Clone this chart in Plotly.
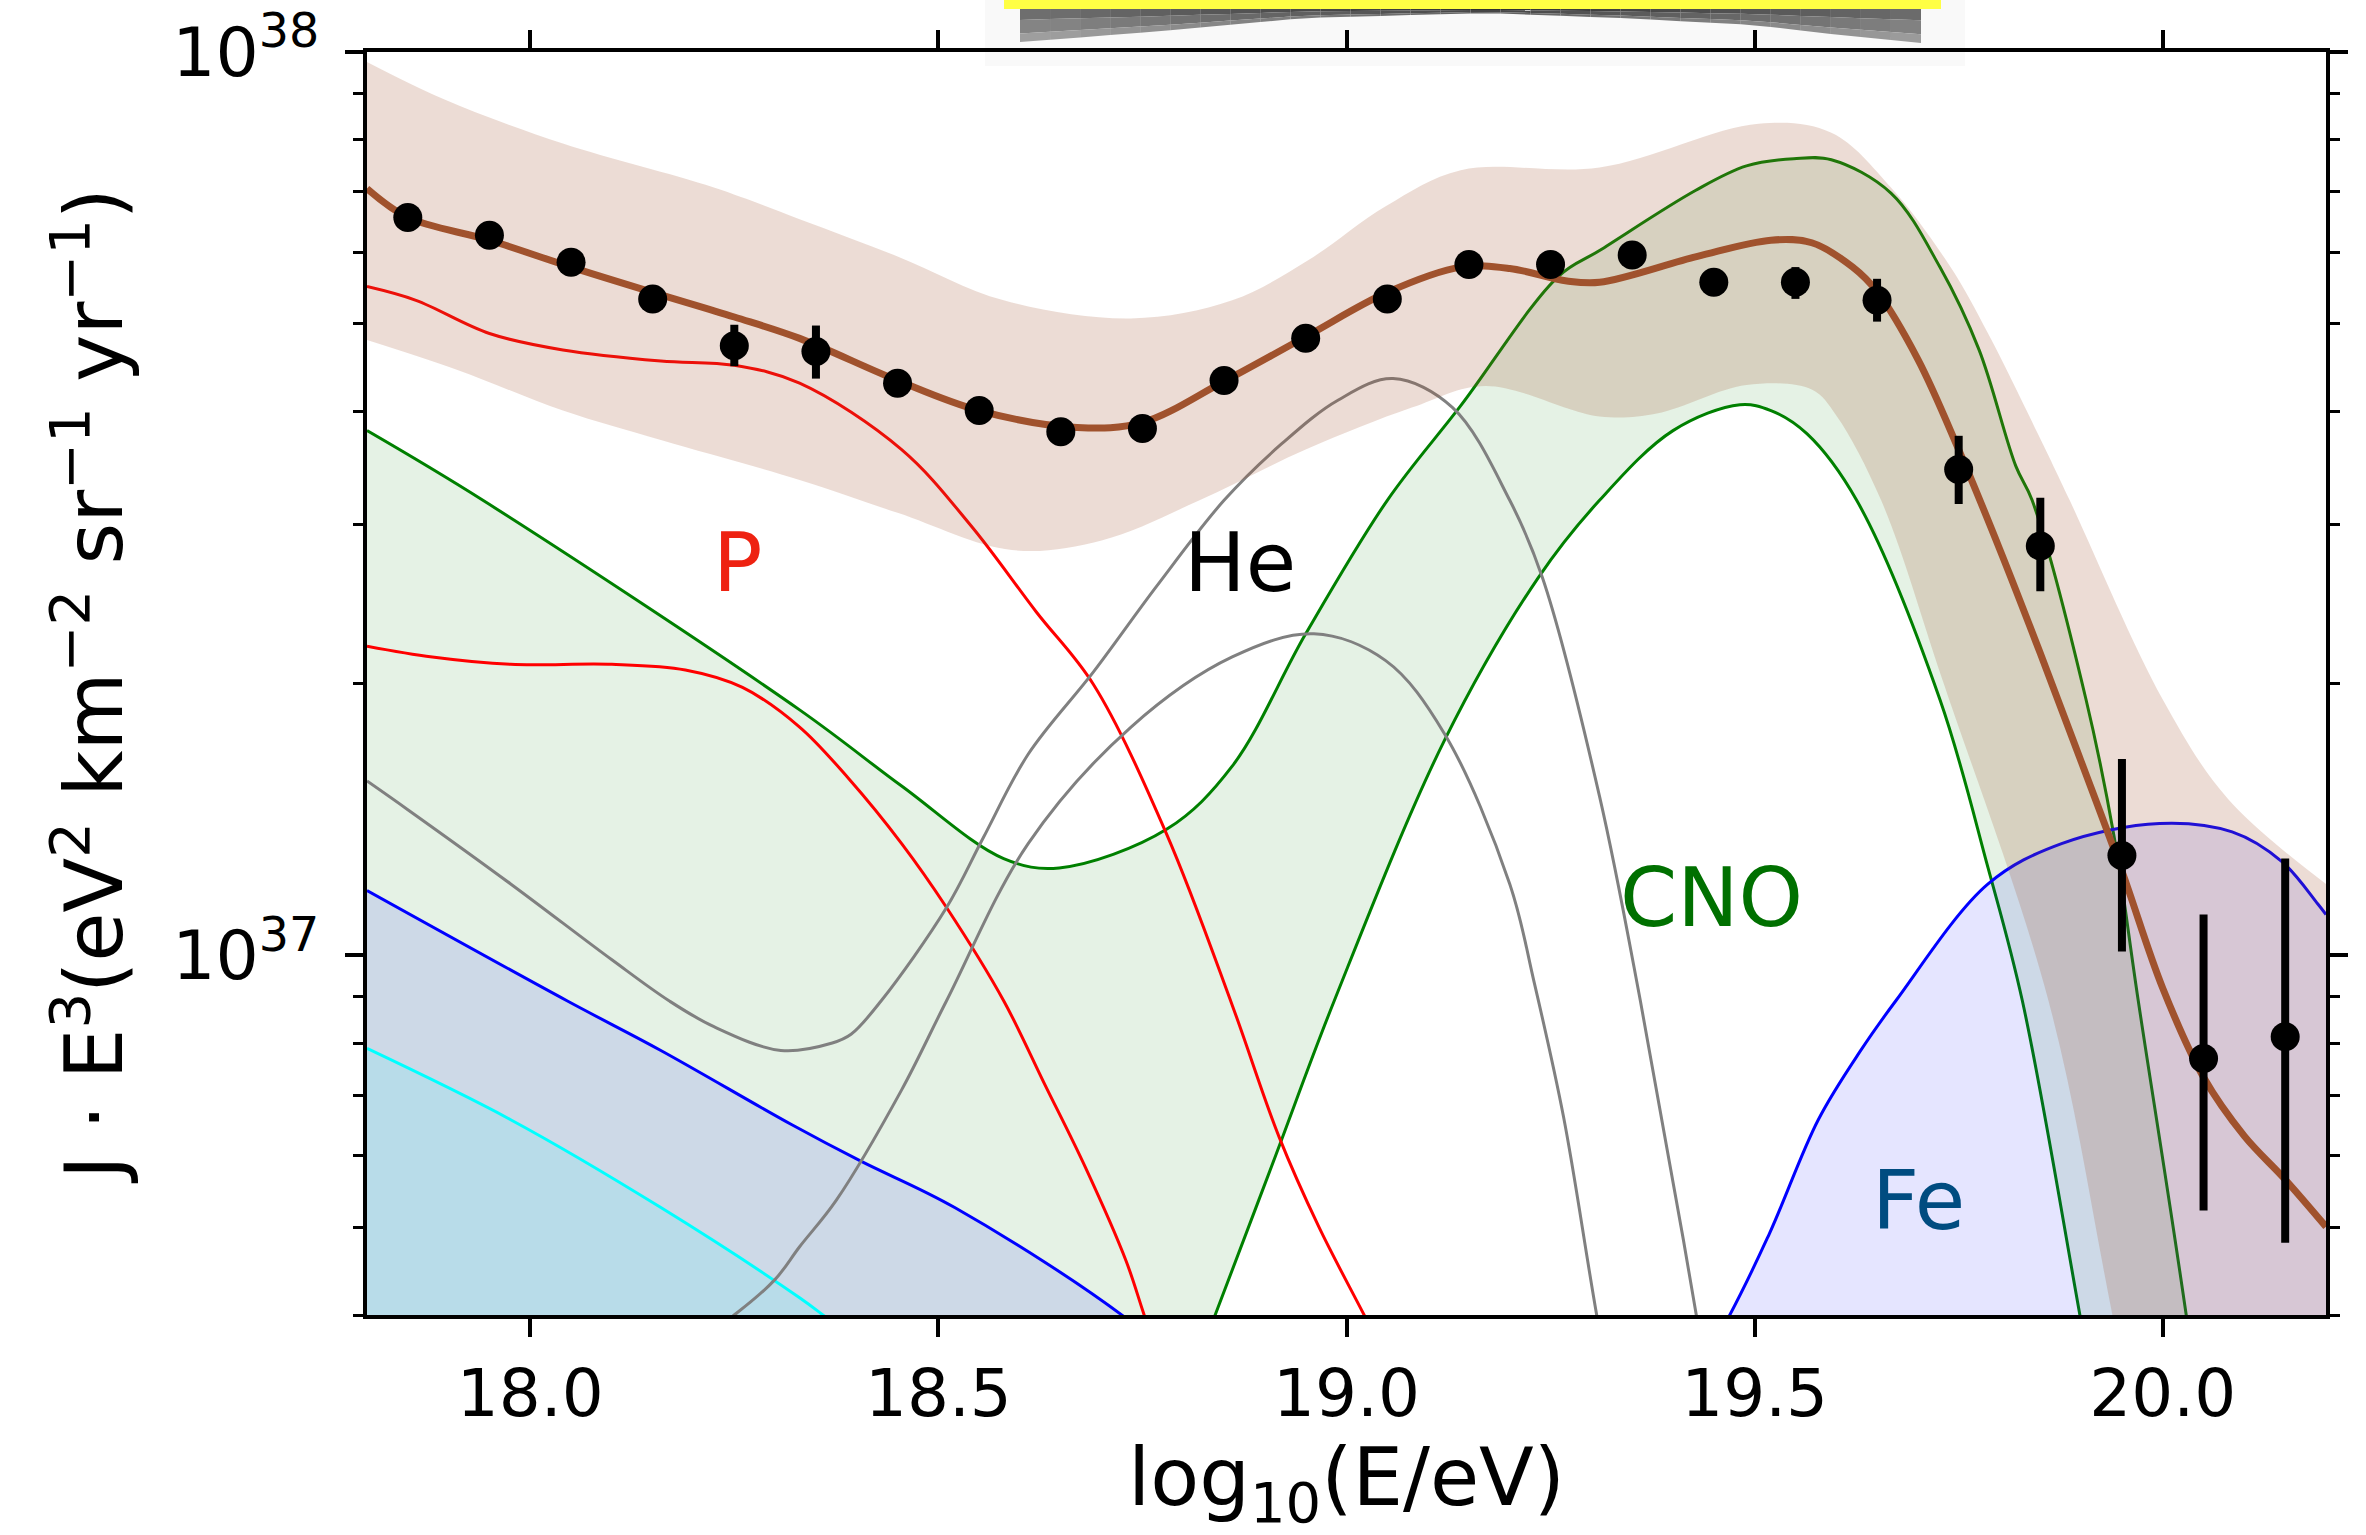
import math
import plotly.graph_objects as go

# ---------------- data ----------------
# measured spectrum points
data_x = [17.85, 17.95, 18.05, 18.15, 18.25, 18.35, 18.45, 18.55, 18.65, 18.75, 18.85, 18.95,
          19.05, 19.15, 19.25, 19.35, 19.45, 19.55, 19.65, 19.75, 19.85, 19.95, 20.05, 20.15]
data_y = [6.56e37, 6.27e37, 5.85e37, 5.33e37, 4.73e37, 4.66e37, 4.30e37, 4.01e37, 3.80e37, 3.83e37,
          4.33e37, 4.82e37, 5.33e37, 5.82e37, 5.82e37, 5.96e37, 5.56e37, 5.56e37, 5.31e37, 3.45e37,
          2.84e37, 1.29e37, 7.69e36, 8.13e36]
data_hi = [6.62e37, 6.33e37, 5.91e37, 5.39e37, 4.99e37, 4.98e37, 4.36e37, 4.07e37, 3.86e37, 3.89e37,
           4.39e37, 4.89e37, 5.41e37, 5.90e37, 5.91e37, 6.06e37, 5.66e37, 5.78e37, 5.61e37, 3.76e37,
           3.21e37, 1.65e37, 1.11e37, 1.28e37]
data_lo = [6.50e37, 6.21e37, 5.79e37, 5.27e37, 4.49e37, 4.35e37, 4.24e37, 3.95e37, 3.74e37, 3.77e37,
           4.27e37, 4.75e37, 5.25e37, 5.74e37, 5.73e37, 5.86e37, 5.46e37, 5.33e37, 5.03e37, 3.16e37,
           2.53e37, 1.01e37, 5.22e36, 4.81e36]

# total fit
fit_x = [17.80, 17.85, 17.95, 18.05, 18.15, 18.25, 18.33, 18.45, 18.55, 18.67, 18.75, 18.85, 18.95,
         19.05, 19.14, 19.20, 19.27, 19.31, 19.43, 19.52, 19.57, 19.62, 19.65, 19.70, 19.75, 19.80,
         19.85, 19.90, 19.95, 20.00, 20.05, 20.10, 20.15, 20.20]
fit_y = [7.06e37, 6.56e37, 6.19e37, 5.78e37, 5.42e37, 5.09e37, 4.82e37, 4.33e37, 4.01e37, 3.84e37,
         3.89e37, 4.32e37, 4.84e37, 5.42e37, 5.78e37, 5.76e37, 5.58e37, 5.56e37, 5.94e37, 6.19e37,
         6.15e37, 5.78e37, 5.43e37, 4.57e37, 3.63e37, 2.82e37, 2.16e37, 1.64e37, 1.24e37, 9.20e36,
         7.33e36, 6.31e36, 5.65e36, 5.01e36]

# total-fit uncertainty band
band_hi_x = [17.80, 17.895, 18.04, 18.225, 18.33, 18.45, 18.58, 18.736, 18.86, 18.954, 19.048, 19.14,
             19.31, 19.505, 19.594, 19.667, 19.74, 19.786, 19.847, 19.886, 20.00, 20.08, 20.20]
band_hi = [9.75e37, 8.86e37, 7.92e37, 7.08e37, 6.53e37, 5.94e37, 5.31e37, 5.07e37, 5.31e37, 5.89e37,
           6.75e37, 7.40e37, 7.45e37, 8.33e37, 8.14e37, 7.08e37, 5.78e37, 4.88e37, 3.78e37, 3.19e37,
           1.92e37, 1.49e37, 1.20e37]
band_lo_x = [17.80, 17.91, 18.04, 18.16, 18.33, 18.45, 18.59, 18.70, 18.82, 18.95, 19.08, 19.17, 19.31,
             19.38, 19.49, 19.57, 19.60, 19.655, 19.73, 19.86, 19.94, 20.05, 20.20]
band_lo = [4.80e37, 4.45e37, 4.01e37, 3.72e37, 3.36e37, 3.09e37, 2.81e37, 2.88e37, 3.19e37, 3.63e37,
           4.04e37, 4.27e37, 3.95e37, 3.98e37, 4.28e37, 4.23e37, 3.96e37, 3.19e37, 2.02e37, 8.91e36,
           3.93e36, 1.23e36, 2.5e35]

# CNO band
cno_lo_x = [17.80, 18.30, 18.60, 18.84, 18.913, 18.985, 19.12, 19.235, 19.31, 19.40, 19.482, 19.52,
            19.564, 19.625, 19.727, 19.786, 19.828, 19.90, 20.00, 20.20]
cno_lo = [3.0e34, 2.5e35, 1.1e36, 4.02e36, 6.00e36, 8.91e36, 1.73e37, 2.62e37, 3.19e37, 3.81e37,
          4.07e37, 4.01e37, 3.78e37, 3.19e37, 1.92e37, 1.25e37, 8.91e36, 3.93e36, 1.2e36, 1.0e35]
cno_hi_x = [17.80, 17.942, 18.33, 18.455, 18.58, 18.648, 18.78, 18.86, 18.95, 19.05, 19.14, 19.26,
            19.31, 19.428, 19.49, 19.548, 19.594, 19.667, 19.727, 19.775, 19.82, 19.84, 19.906,
            19.94, 19.97, 20.03, 20.20]
cno_hi = [3.81e37, 3.19e37, 1.87e37, 1.54e37, 1.28e37, 1.25e37, 1.38e37, 1.62e37, 2.27e37, 3.19e37,
          4.06e37, 5.65e37, 6.03e37, 7.03e37, 7.48e37, 7.62e37, 7.60e37, 6.98e37, 5.78e37, 4.68e37,
          3.48e37, 3.19e37, 1.92e37, 1.36e37, 8.91e36, 3.93e36, 3.0e35]

# Fe band (upper edge) and cyan band (upper edge)
fe_x = [17.80, 18.045, 18.16, 18.32, 18.405, 18.52, 18.736, 18.90, 19.10, 19.30, 19.465, 19.518,
        19.578, 19.63, 19.673, 19.786, 19.876, 19.996, 20.085, 20.146, 20.19, 20.20]
fe_y = [1.18e37, 8.91e36, 7.85e36, 6.50e36, 5.92e36, 5.26e36, 3.93e36, 2.9e36, 2.1e36, 2.2e36,
        3.93e36, 4.92e36, 6.58e36, 7.85e36, 8.91e36, 1.20e37, 1.33e37, 1.40e37, 1.37e37, 1.27e37,
        1.14e37, 1.11e37]
cyan_x = [17.80, 17.976, 18.16, 18.33, 18.37, 18.60]
cyan_y = [7.89e36, 6.58e36, 5.26e36, 4.18e36, 3.93e36, 2.8e36]

# proton band edges
p_hi_x = [17.80, 17.86, 17.95, 18.04, 18.16, 18.25, 18.33, 18.455, 18.54, 18.62, 18.69, 18.78, 18.86,
          18.917, 18.966, 19.026, 19.10]
p_hi = [5.50e37, 5.31e37, 4.88e37, 4.68e37, 4.55e37, 4.50e37, 4.30e37, 3.63e37, 2.99e37, 2.40e37,
        1.995e37, 1.36e37, 8.81e36, 6.31e36, 5.01e36, 3.93e36, 2.9e36]
p_lo_x = [17.80, 17.88, 17.976, 18.10, 18.19, 18.26, 18.33, 18.39, 18.455, 18.51, 18.58, 18.63,
          18.68, 18.73, 18.755, 18.82]
p_lo = [2.20e37, 2.14e37, 2.10e37, 2.10e37, 2.07e37, 1.98e37, 1.79e37, 1.57e37, 1.33e37, 1.13e37,
        8.91e36, 7.21e36, 5.83e36, 4.59e36, 3.93e36, 2.7e36]

# helium band edges
he_hi_x = [17.80, 17.85, 17.976, 18.10, 18.17, 18.225, 18.307, 18.37, 18.393, 18.43, 18.51, 18.555,
           18.61, 18.69, 18.767, 18.85, 18.92, 18.99, 19.057, 19.13, 19.20, 19.24, 19.31, 19.36,
           19.43, 19.50]
he_hi = [1.56e37, 1.45e37, 1.20e37, 9.89e36, 8.91e36, 8.34e36, 7.85e36, 8.00e36, 8.18e36, 8.91e36,
         1.13e37, 1.35e37, 1.67e37, 2.06e37, 2.56e37, 3.19e37, 3.68e37, 4.12e37, 4.35e37, 4.04e37,
         3.19e37, 2.62e37, 1.50e37, 8.91e36, 3.93e36, 1.6e36]
he_lo_x = [18.15, 18.253, 18.30, 18.33, 18.375, 18.455, 18.51, 18.61, 18.736, 18.86, 18.96, 19.048,
           19.12, 19.20, 19.23, 19.266, 19.308, 19.36]
he_lo = [3.47e36, 4.02e36, 4.38e36, 4.76e36, 5.36e36, 7.10e36, 8.91e36, 1.33e37, 1.79e37, 2.14e37,
         2.27e37, 2.12e37, 1.76e37, 1.20e37, 9.33e36, 6.62e36, 3.93e36, 2.2e36]

# labels
label_text = ["P", "He", "CNO", "Fe"]
label_x = [18.254, 18.870, 19.447, 19.701]
label_y = [2.72e37, 2.72e37, 1.16e37, 5.36e36]
label_color = ["#EE2211", "#000000", "#007000", "#004C80"]

# axis ticks
x_ticks = [18.0, 18.5, 19.0, 19.5, 20.0]
x_ticktext = ["18.0", "18.5", "19.0", "19.5", "20.0"]
y_ticks = [1e37, 1e38]
y_ticktext = ["10<sup>37</sup>", "10<sup>38</sup>"]
y_minor = [4e36, 5e36, 6e36, 7e36, 8e36, 9e36, 2e37, 3e37, 4e37, 5e37, 6e37, 7e37, 8e37, 9e37]

# ---------------- figure ----------------
W, H = 2366, 1535
L, R, T, B = 367, 40, 52, 220
FONT = "DejaVu Sans"

fig = go.Figure()

def line(x, y, color, width=3, fill=None, fillcolor=None):
    fig.add_trace(go.Scatter(x=x, y=y, mode="lines",
                             line=dict(color=color, width=width, shape="spline", smoothing=1.0),
                             fill=fill, fillcolor=fillcolor, hoverinfo="skip", showlegend=False))

# CNO band
line(cno_lo_x, cno_lo, "#008000")
line(cno_hi_x, cno_hi, "#008000", fill="tonexty", fillcolor="rgba(0,128,0,0.1)")
# Fe band
line(fe_x, fe_y, "#0000FF", fill="tozeroy", fillcolor="rgba(0,0,255,0.1)")
# cyan band
line(cyan_x, cyan_y, "#00FFFF", fill="tozeroy", fillcolor="rgba(0,255,255,0.1)")
# P band
line(p_hi_x, p_hi, "#FF0000")
line(p_lo_x, p_lo, "#FF0000")
# He band
line(he_hi_x, he_hi, "#808080")
line(he_lo_x, he_lo, "#808080")
# total band
line(band_lo_x, band_lo, "rgba(0,0,0,0)", width=0)
line(band_hi_x, band_hi, "rgba(0,0,0,0)", width=0, fill="tonexty", fillcolor="rgba(160,82,45,0.2)")
# total fit
line(fit_x, fit_y, "#A0522D", width=7)

# data
fig.add_trace(go.Scatter(
    x=data_x, y=data_y, mode="markers",
    marker=dict(color="black", size=29),
    error_y=dict(type="data", symmetric=False,
                 array=[h - v for h, v in zip(data_hi, data_y)],
                 arrayminus=[v - l for l, v in zip(data_lo, data_y)],
                 thickness=8, width=0, color="black"),
    hoverinfo="skip", showlegend=False))

for t, x, y, c in zip(label_text, label_x, label_y, label_color):
    fig.add_annotation(x=x, y=math.log10(y), text=t, showarrow=False,
                       font=dict(family=FONT, size=82, color=c), xanchor="center", yanchor="middle")

# decoration at the top (cropped picture remnant)
def px(x, y):
    return (x - L) / (W - L - R), (H - B - y) / (H - T - B)

prof_x = [1020, 1151, 1305, 1486, 1620, 1754, 1821, 1921]
prof_y = [42, 32, 18, 13, 18, 25, 33, 43]

def prof(xx):
    for k in range(len(prof_x) - 1):
        if prof_x[k] <= xx <= prof_x[k + 1]:
            f = (xx - prof_x[k]) / (prof_x[k + 1] - prof_x[k])
            return prof_y[k] + f * (prof_y[k + 1] - prof_y[k])
    return prof_y[-1]

shapes = []
x0, y0 = px(985, 0); x1, y1 = px(1965, 66)
shapes.append(dict(type="rect", xref="paper", yref="paper", x0=x0, y0=y0, x1=x1, y1=y1,
                   fillcolor="rgba(0,0,0,0.022)", line=dict(width=0), layer="above"))
nseg = 30
layers = [(0.0, 0.35, 0), (0.35, 0.75, 22), (0.75, 1.0, 48)]
for i in range(nseg):
    xa = 1020 + (1921 - 1020) * i / nseg
    xb = 1020 + (1921 - 1020) * (i + 1) / nseg
    d = min(1.0, abs((xa + xb) / 2 - 1490) / 430)
    base = int(48 + 62 * d)
    for fa, fb, add in layers:
        ya_a = 8 + (prof(xa) - 8) * fa
        ya_b = 8 + (prof(xb) - 8) * fa
        yb_a = 8 + (prof(xa) - 8) * fb
        yb_b = 8 + (prof(xb) - 8) * fb
        g = min(220, base + add)
        pts = [px(xa, ya_a), px(xb, ya_b), px(xb, yb_b), px(xa, yb_a)]
        path = "M " + " L ".join(f"{a},{b}" for a, b in pts) + " Z"
        shapes.append(dict(type="path", xref="paper", yref="paper", path=path,
                           fillcolor=f"rgb({g},{g},{g})", line=dict(width=0), layer="above"))
x0, y0 = px(1004, 0); x1, y1 = px(1941, 9)
shapes.append(dict(type="rect", xref="paper", yref="paper", x0=x0, y0=y0, x1=x1, y1=y1,
                   fillcolor="#FFFF44", line=dict(width=0), layer="above"))
fig.update_layout(shapes=shapes)

fig.update_layout(
    width=W, height=H, autosize=False,
    margin=dict(l=L, r=R, t=T, b=B, pad=0, autoexpand=False),
    paper_bgcolor="white", plot_bgcolor="white",
    font=dict(family=FONT, color="black"),
    xaxis=dict(range=[17.8, 20.2], showgrid=False, zeroline=False, showline=True, linecolor="black",
               linewidth=4, mirror="ticks", ticks="outside", ticklen=18, tickwidth=4, tickcolor="black",
               tickmode="array", tickvals=x_ticks, ticktext=x_ticktext, automargin=False,
               tickfont=dict(family=FONT, size=66, color="black"),
               title=dict(text="log<sub>10</sub>(E/eV)", font=dict(family=FONT, size=80, color="black"), standoff=20)),
    yaxis=dict(type="log", range=[math.log10(4e36), 38], showgrid=False, zeroline=False, showline=True,
               linecolor="black", linewidth=4, mirror="ticks", ticks="outside", ticklen=18, tickwidth=4,
               tickcolor="black", tickmode="array", tickvals=y_ticks, ticktext=y_ticktext, automargin=False,
               tickfont=dict(family=FONT, size=68, color="black"), ticklabelstandoff=12,
               minor=dict(ticks="outside", ticklen=10, tickwidth=3, tickcolor="black",
                          tickmode="array", tickvals=y_minor, showgrid=False),
               title=dict(text="J · E<sup>3</sup>(eV<sup>2</sup> km<sup>−2</sup> sr<sup>−1</sup> yr<sup>−1</sup>)",
                          font=dict(family=FONT, size=80, color="black"), standoff=24)),
)

fig.write_html("out.html", config={"displayModeBar": False},
               post_script="document.body.style.margin='0';")
